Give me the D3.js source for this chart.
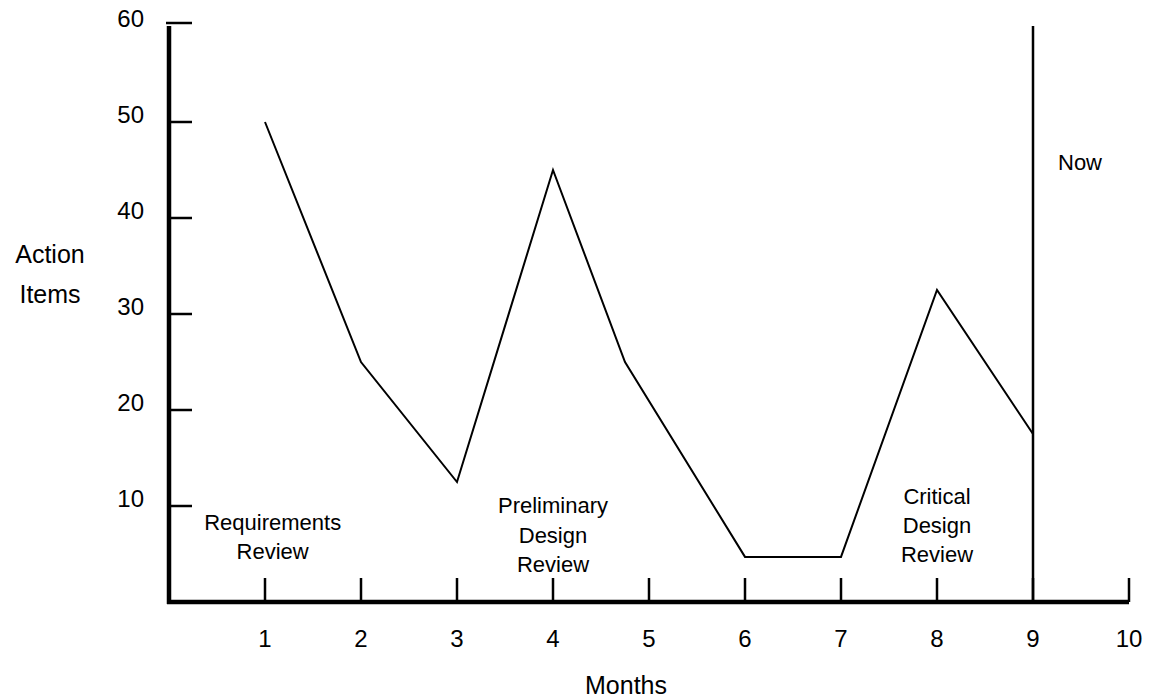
<!DOCTYPE html>
<html>
<head>
<meta charset="utf-8">
<script src="https://cdn.jsdelivr.net/npm/d3@7"></script>
<style>
  html, body { margin: 0; padding: 0; background: #fff; }
  text { font-family: "Liberation Sans", Arial, sans-serif; fill: #000; }
</style>
</head>
<body>
<svg id="chart" width="1151" height="698"></svg>
<script>
// ---- data ----
const months = [1, 2, 3, 4, 4.75, 6, 7, 8, 9];
const actionItems = [50, 25, 12.5, 45, 25, 4.7, 4.7, 32.5, 17.5];
const xTicks = [1, 2, 3, 4, 5, 6, 7, 8, 9, 10];
const yTicks = [10, 20, 30, 40, 50, 60];
const reviews = [
  { x: 1.08, y: 7.5, lines: ["Requirements", "Review"] },
  { x: 4.0, y: 9.25, lines: ["Preliminary", "Design", "Review"] },
  { x: 8.0, y: 10.25, lines: ["Critical", "Design", "Review"] }
];
const nowMonth = 9;
const nowLabel = "Now";
const xTitle = "Months";
const yTitle = ["Action", "Items"];

// ---- scales ----
const svg = d3.select("#chart");
const x = d3.scaleLinear().domain([0, 10]).range([169, 1129]);
const y = d3.scaleLinear().domain([0, 60]).range([602, 26]);

// ---- axes ----
svg.append("line")
  .attr("x1", x(0)).attr("x2", x(0))
  .attr("y1", y(60)).attr("y2", y(0) + 2)
  .attr("stroke", "#000").attr("stroke-width", 4.5);
svg.append("line")
  .attr("x1", x(0) - 2).attr("x2", x(10))
  .attr("y1", y(0)).attr("y2", y(0))
  .attr("stroke", "#000").attr("stroke-width", 4.5);

// y ticks (pointing right)
svg.append("g").selectAll("line").data(yTicks).join("line")
  .attr("x1", d => d === 60 ? x(0) - 3 : x(0))
  .attr("x2", x(0) + 23)
  .attr("y1", d => d === 60 ? y(d) - 3 : y(d))
  .attr("y2", d => d === 60 ? y(d) - 3 : y(d))
  .attr("stroke", "#000").attr("stroke-width", 2.5);
svg.append("g").selectAll("text").data(yTicks).join("text")
  .attr("x", x(0) - 25)
  .attr("y", d => y(d) + 1)
  .attr("text-anchor", "end")
  .attr("font-size", 24)
  .text(d => d);

// x ticks (pointing up)
svg.append("g").selectAll("line").data(xTicks).join("line")
  .attr("x1", d => x(d)).attr("x2", d => x(d))
  .attr("y1", y(0)).attr("y2", y(0) - 24)
  .attr("stroke", "#000").attr("stroke-width", 2.5);
svg.append("g").selectAll("text").data(xTicks).join("text")
  .attr("x", d => x(d))
  .attr("y", y(0) + 45)
  .attr("text-anchor", "middle")
  .attr("font-size", 24)
  .text(d => d);

// axis titles
svg.append("text")
  .attr("x", 626).attr("y", 694)
  .attr("text-anchor", "middle").attr("font-size", 25)
  .text(xTitle);
svg.append("text")
  .attr("text-anchor", "middle").attr("font-size", 25)
  .selectAll("tspan").data(yTitle).join("tspan")
  .attr("x", 50).attr("y", (d, i) => 263 + i * 40)
  .text(d => d);

// ---- now line ----
svg.append("line")
  .attr("x1", x(nowMonth)).attr("x2", x(nowMonth))
  .attr("y1", y(60)).attr("y2", y(0))
  .attr("stroke", "#000").attr("stroke-width", 2.5);
svg.append("text")
  .attr("x", x(nowMonth) + 25).attr("y", y(45))
  .attr("font-size", 22)
  .text(nowLabel);

// ---- data line ----
const pts = months.map((m, i) => [m, actionItems[i]]);
svg.append("path")
  .datum(pts)
  .attr("fill", "none")
  .attr("stroke", "#000")
  .attr("stroke-width", 2)
  .attr("stroke-linejoin", "miter")
  .attr("d", d3.line().x(d => x(d[0])).y(d => y(d[1])));

// ---- review annotations ----
reviews.forEach(r => {
  svg.append("text")
    .attr("text-anchor", "middle").attr("font-size", 22)
    .selectAll("tspan").data(r.lines).join("tspan")
    .attr("x", x(r.x))
    .attr("y", (d, i) => y(r.y) + i * 29.3)
    .text(d => d);
});
</script>
</body>
</html>
